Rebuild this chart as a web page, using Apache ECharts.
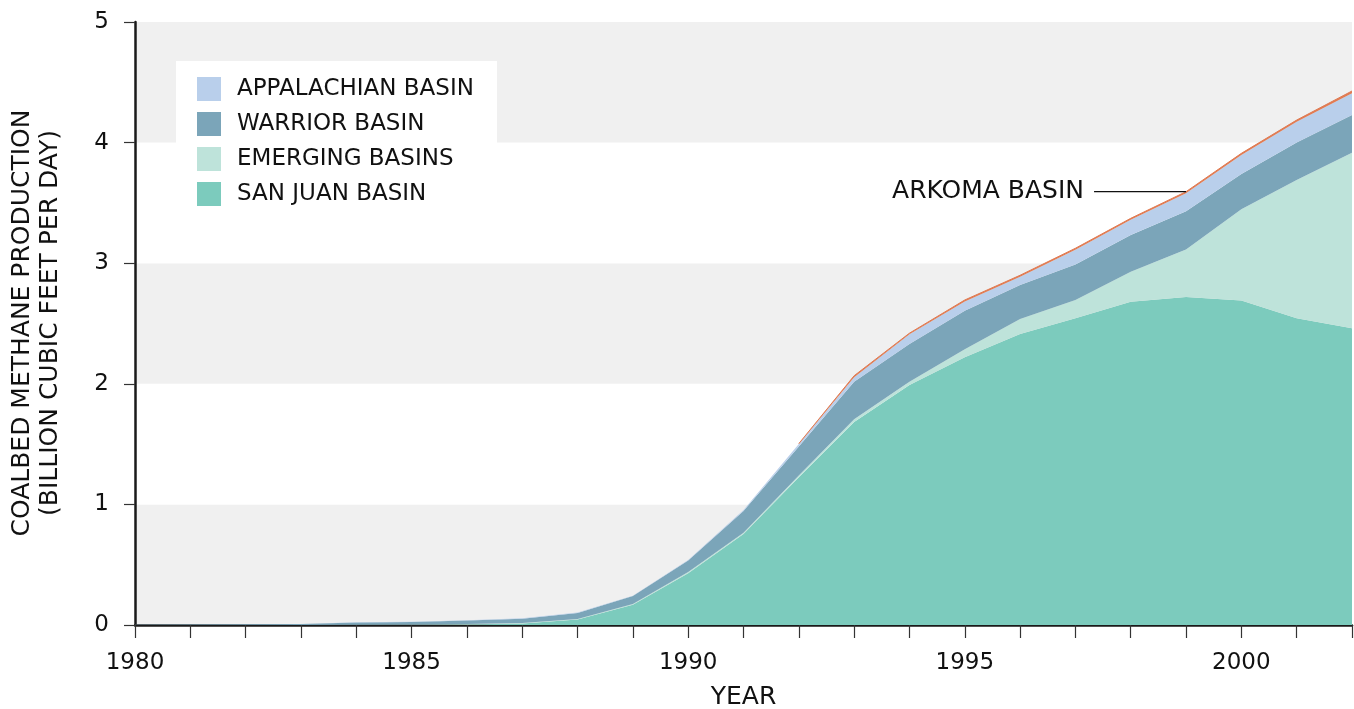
<!DOCTYPE html>
<html>
<head>
<meta charset="utf-8">
<script src="https://cdn.jsdelivr.net/npm/echarts@6/dist/echarts.min.js"></script>
<style>
html,body{margin:0;padding:0;background:#fff;}
#chart{width:1354px;height:709px;}
</style>
</head>
<body>
<div id="chart"></div>
<script>
const years = ['1980','1981','1982','1983','1984','1985','1986','1987','1988','1989','1990','1991','1992','1993','1994','1995','1996','1997','1998','1999','2000','2001','2002'];
const yTicks = [0, 1, 2, 3, 4, 5];
const sanJuan = [0,0,0,0,0.002,0.003,0.005,0.012,0.045,0.168,0.43,0.755,1.225,1.683,1.99,2.22,2.413,2.543,2.681,2.72,2.69,2.543,2.46];
const emerging = [0,0,0,0,0.001,0.002,0.003,0.004,0.005,0.007,0.01,0.01,0.015,0.023,0.027,0.066,0.124,0.152,0.249,0.393,0.757,1.147,1.456];
const warrior = [0.003,0.004,0.006,0.008,0.017,0.019,0.030,0.036,0.05,0.065,0.095,0.18,0.24,0.311,0.313,0.32,0.283,0.295,0.304,0.317,0.293,0.31,0.313];
const appalachian = [0,0,0,0,0.002,0.002,0.002,0.003,0.003,0.003,0.004,0.008,0.02,0.038,0.08,0.077,0.068,0.122,0.126,0.15,0.158,0.172,0.181];
const arkoma = [null,null,null,null,null,null,null,null,null,null,null,null,0.004,0.012,0.01,0.012,0.012,0.012,0.012,0.013,0.013,0.015,0.018];
const annotationYear = '1999';

const FONT = 'DejaVu Sans';
const chart = echarts.init(document.getElementById('chart'));

function areaSeries(name, data, color, extra) {
  return Object.assign({
    name: name,
    type: 'line',
    stack: 'total',
    data: data,
    symbol: 'none',
    showSymbol: false,
    smooth: false,
    lineStyle: { width: 0, color: color },
    itemStyle: { color: color },
    areaStyle: { color: color, opacity: 1 },
    emphasis: { disabled: true },
    silent: true,
    animation: false
  }, extra || {});
}

const option = {
  animation: false,
  grid: { left: 135, right: 2, top: 22, bottom: 84, containLabel: false, outerBoundsMode: 'none' },
  legend: {
    data: ['APPALACHIAN BASIN', 'WARRIOR BASIN', 'EMERGING BASINS', 'SAN JUAN BASIN'],
    orient: 'vertical',
    left: 197,
    top: 77,
    padding: 0,
    itemWidth: 24,
    itemHeight: 24,
    itemGap: 11,
    icon: 'rect',
    selectedMode: false,
    textStyle: { fontFamily: FONT, fontSize: 23, color: '#111', padding: [0, 0, 0, 11] },
    itemStyle: { borderWidth: 0 }
  },
  xAxis: {
    type: 'category',
    data: years,
    boundaryGap: false,
    name: 'YEAR',
    nameLocation: 'middle',
    nameGap: 60,
    nameTextStyle: { fontFamily: FONT, fontSize: 25, color: '#111' },
    axisLine: { show: true, lineStyle: { color: '#1a1a1a', width: 2.5 } },
    axisTick: { show: true, interval: 0, length: 13, lineStyle: { color: '#333', width: 1.2 } },
    axisLabel: { interval: 4, fontFamily: FONT, fontSize: 23, color: '#111', margin: 27 },
    splitLine: { show: false }
  },
  yAxis: {
    type: 'value',
    min: 0,
    max: 5,
    interval: 1,
    axisLine: { show: true, lineStyle: { color: '#1a1a1a', width: 2.5 } },
    axisTick: { show: true, length: 11, lineStyle: { color: '#333', width: 1.2 } },
    axisLabel: {
      fontFamily: FONT, fontSize: 23, color: '#111', margin: 26,
      formatter: function (v) { return yTicks.indexOf(v) >= 0 ? String(v) : ''; }
    },
    splitLine: { show: false },
    splitArea: { show: true, areaStyle: { color: ['#f0f0f0', '#ffffff'] } }
  },
  graphic: [
    { type: 'rect', z: 1, silent: true, shape: { x: 176, y: 61, width: 321, height: 160 }, style: { fill: '#ffffff' } },
    {
      type: 'text', silent: true, x: 36, y: 323, rotation: Math.PI / 2,
      style: {
        text: 'COALBED METHANE PRODUCTION\n(BILLION CUBIC FEET PER DAY)',
        font: '25px "DejaVu Sans"', fill: '#111', align: 'center', verticalAlign: 'middle', lineHeight: 28
      }
    }
  ],
  series: [
    areaSeries('SAN JUAN BASIN', sanJuan, '#7ccbbd'),
    areaSeries('EMERGING BASINS', emerging, '#bee3da'),
    areaSeries('WARRIOR BASIN', warrior, '#7ba5b9'),
    areaSeries('APPALACHIAN BASIN', appalachian, '#b9cfeb'),
    areaSeries('ARKOMA BASIN', arkoma, '#e07b53', { lineStyle: { width: 1, color: '#e07b53' } })
  ]
};
chart.setOption(option);

// Annotation for Arkoma Basin, anchored to the stacked total at the annotation year
const idx = years.indexOf(annotationYear);
const topVal = sanJuan[idx] + emerging[idx] + warrior[idx] + appalachian[idx] + arkoma[idx];
const p = chart.convertToPixel({ xAxisIndex: 0, yAxisIndex: 0 }, [idx, topVal]);
const g = option.graphic.slice();
g.push({
  type: 'line', silent: true, z: 10,
  shape: { x1: p[0] - 92, y1: p[1], x2: p[0], y2: p[1] },
  style: { stroke: '#111', lineWidth: 1.2 }
});
g.push({
  type: 'text', silent: true, z: 10, x: p[0] - 102, y: p[1],
  style: { text: 'ARKOMA BASIN', font: '25px "DejaVu Sans"', fill: '#111', align: 'right', verticalAlign: 'middle' }
});
chart.setOption({ graphic: g });
</script>
</body>
</html>
